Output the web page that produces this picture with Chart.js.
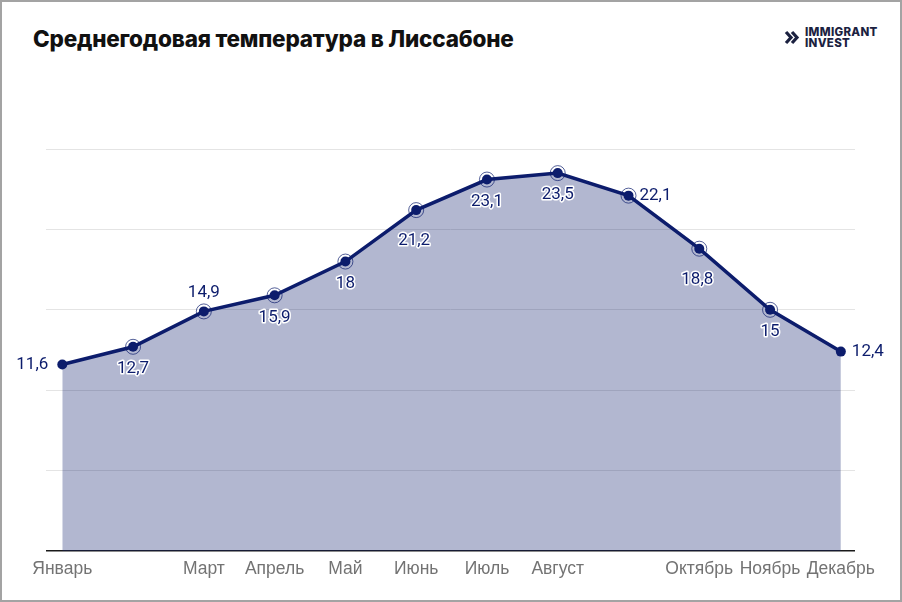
<!DOCTYPE html>
<html>
<head>
<meta charset="utf-8">
<script src="https://cdn.jsdelivr.net/npm/chart.js@4.4.1/dist/chart.umd.min.js"></script>
<style>
  body { margin: 0; background: #fff; }
  #frame { position: absolute; left: 0; top: 0; width: 902px; height: 602px; box-sizing: border-box; border: 2px solid #a3a3a3; }
  #title { position: absolute; left: 33px; top: 25px; font: 800 22.5px "Inter", sans-serif; color: #111; letter-spacing: -0.2px; }
  #logo { position: absolute; left: 784px; top: 27px; display: flex; align-items: center; color: #1b2140; }
  #logo .txt { font: 800 11.5px/10.5px "Inter", sans-serif; margin-left: 4px; letter-spacing: 0.3px; }
  canvas { position: absolute; left: 0; top: 0; }
</style>
</head>
<body>
<div id="frame"></div>
<div id="title">Среднегодовая температура в Лиссабоне</div>
<div id="logo">
  <svg width="17" height="17" viewBox="0 0 17 17">
    <polyline points="2,3 7,8.5 2,14" fill="none" stroke="#1b2140" stroke-width="3.2"/>
    <polyline points="8,3 13,8.5 8,14" fill="none" stroke="#1b2140" stroke-width="3.2"/>
  </svg>
  <div class="txt">IMMIGRANT<br>INVEST</div>
</div>
<canvas id="chart" width="902" height="602"></canvas>
<script>
// --- Data ---
const months = ["Январь", "Февраль", "Март", "Апрель", "Май", "Июнь", "Июль", "Август", "Сентябрь", "Октябрь", "Ноябрь", "Декабрь"];
const shownMonths = ["Январь", "", "Март", "Апрель", "Май", "Июнь", "Июль", "Август", "", "Октябрь", "Ноябрь", "Декабрь"];
const temps = [11.6, 12.7, 14.9, 15.9, 18, 21.2, 23.1, 23.5, 22.1, 18.8, 15, 12.4];
const yTicks = [0, 5, 10, 15, 20, 25];

// where each value label sits next to its point
const labelPos = ["left", "below", "above", "below", "below", "belowFar", "below", "below", "right", "belowFar", "below", "right"];

const navy = "#0c1c6c";

const valueLabels = {
  id: "valueLabels",
  afterDatasetsDraw(chart) {
    const ctx = chart.ctx;
    const meta = chart.getDatasetMeta(0);
    ctx.save();
    ctx.font = "17px Roboto";
    ctx.textBaseline = "middle";
    ctx.lineJoin = "round";
    meta.data.forEach((pt, i) => {
      const txt = String(temps[i]).replace(".", ",");
      let x = pt.x, y = pt.y;
      const pos = labelPos[i];
      ctx.textAlign = "center";
      if (pos === "left") { ctx.textAlign = "right"; x -= 14; }
      else if (pos === "right") { ctx.textAlign = "left"; x += 11; }
      else if (pos === "above") y -= 19;
      else if (pos === "below") y += 22;
      else if (pos === "belowFar") { y += 31; x -= 2; }
      if (pos.startsWith("below")) {
        ctx.strokeStyle = "#fff";
        ctx.lineWidth = 3;
        ctx.strokeText(txt, x, y);
      }
      ctx.fillStyle = navy;
      ctx.fillText(txt, x, y);
    });
    ctx.restore();
  }
};

new Chart(document.getElementById("chart"), {
  type: "line",
  data: {
    datasets: [
      {
        data: temps.map((t, i) => ({ x: i, y: t })),
        borderColor: navy,
        borderWidth: 3.5,
        backgroundColor: "rgba(16,30,110,0.32)",
        fill: "origin",
        tension: 0,
        pointRadius: 5,
        pointBackgroundColor: navy,
        pointBorderWidth: 0,
        order: 1
      },
      {
        // rings around the inner points
        data: temps.map((t, i) => ({ x: i, y: t })),
        showLine: false,
        fill: false,
        pointRadius: temps.map((t, i) => (i === 0 || i === temps.length - 1) ? 0 : 7.5),
        pointBackgroundColor: "rgba(255,255,255,0.4)",
        pointBorderColor: "rgba(12,28,108,0.7)",
        pointBorderWidth: 1,
        order: 2
      }
    ]
  },
  plugins: [valueLabels],
  options: {
    responsive: false,
    animation: false,
    layout: { padding: { left: 46, right: 47, top: 149, bottom: 14 } },
    plugins: { legend: { display: false }, tooltip: { enabled: false } },
    scales: {
      x: {
        type: "linear",
        min: -0.23,
        max: 11.2,
        afterBuildTicks: axis => { axis.ticks = months.map((m, i) => ({ value: i })); },
        grid: { display: false, drawTicks: false },
        border: { display: false },
        ticks: {
          padding: 8,
          autoSkip: false,
          maxRotation: 0,
          color: "#737373",
          font: { family: "Liberation Sans", size: 17.5 },
          callback: v => shownMonths[v] || ""
        }
      },
      y: {
        min: 0,
        max: 25,
        afterBuildTicks: axis => { axis.ticks = yTicks.map(v => ({ value: v })); },
        grid: {
          drawTicks: false,
          color: c => c.tick.value === 0 ? "#1a1a1a" : "#e4e4e4",
          lineWidth: c => c.tick.value === 0 ? 1.5 : 1
        },
        border: { display: false },
        ticks: { display: false }
      }
    }
  }
});
</script>
</body>
</html>
